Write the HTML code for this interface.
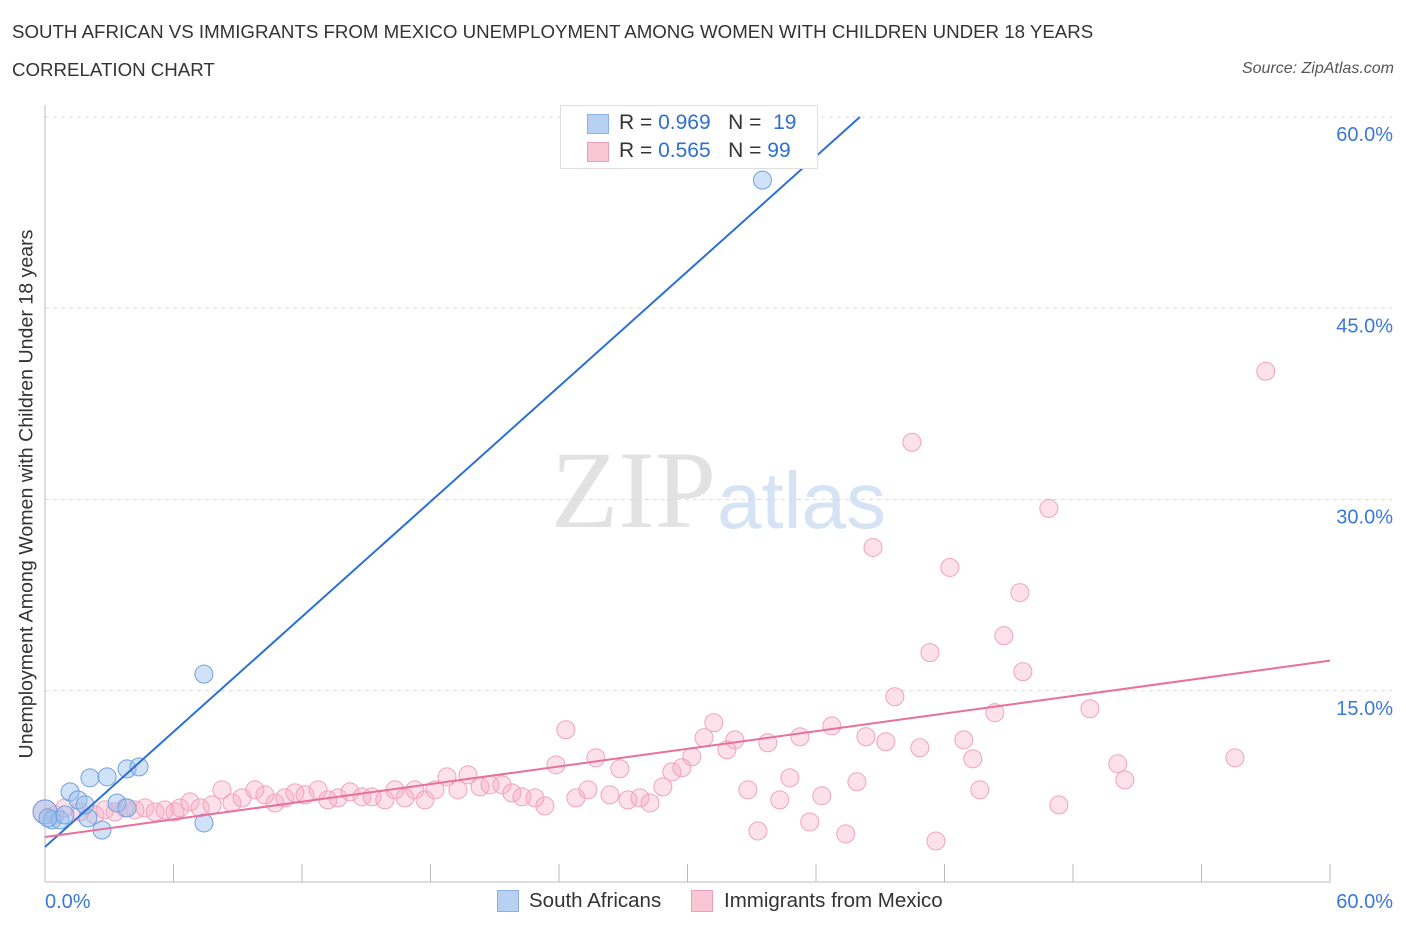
<!DOCTYPE html>
<html><head><meta charset="utf-8">
<style>
body{margin:0;background:#fff;font-family:"Liberation Sans",sans-serif;}
#wrap{position:relative;width:1406px;height:930px;overflow:hidden;}
.t{position:absolute;white-space:nowrap;}
</style></head>
<body>
<div id="wrap">
<div class="t" style="left:12px;top:21px;font-size:18.7px;color:#333;">SOUTH AFRICAN VS IMMIGRANTS FROM MEXICO UNEMPLOYMENT AMONG WOMEN WITH CHILDREN UNDER 18 YEARS</div>
<div class="t" style="left:12px;top:59px;font-size:18.7px;color:#333;">CORRELATION CHART</div>
<div class="t" style="right:12px;top:60px;font-size:16px;color:#555;font-style:italic;">Source: ZipAtlas.com</div>
<svg id="svg" width="1406" height="930" style="position:absolute;left:0;top:0">
<text x="716" y="527" text-anchor="end" font-family="Liberation Serif,serif" font-size="110" fill="#e2e2e2">ZIP</text>
<text x="717" y="528" font-family="Liberation Sans,sans-serif" font-size="80" fill="#d5e3f5">atlas</text>
</svg>
<div class="t" style="left:560px;top:105px;width:256px;height:62px;border:1px solid #ddd;background:#fff;font-size:21px;color:#333;">
<div style="position:absolute;left:26px;top:8px;width:20px;height:18px;background:#b8d1f3;border:1px solid #8ab0e6"></div>
<div style="position:absolute;left:58px;top:5px">R = <span style="color:#2f6fd0">0.969</span>&nbsp;&nbsp;&nbsp;N = &nbsp;<span style="color:#2f6fd0">19</span></div>
<div style="position:absolute;left:26px;top:36px;width:20px;height:18px;background:#f9c6d5;border:1px solid #eea0b8"></div>
<div style="position:absolute;left:58px;top:33px">R = <span style="color:#2f6fd0">0.565</span>&nbsp;&nbsp;&nbsp;N = <span style="color:#2f6fd0">99</span></div>
</div>
<div class="t" style="left:497px;top:890px;width:20px;height:20px;background:#b8d1f3;border:1px solid #8ab0e6"></div>
<div class="t" style="left:529px;top:889px;font-size:20.5px;color:#333">South Africans</div>
<div class="t" style="left:691px;top:890px;width:20px;height:20px;background:#f9c6d5;border:1px solid #eea0b8"></div>
<div class="t" style="left:724px;top:889px;font-size:20.5px;color:#333">Immigrants from Mexico</div>
<div class="t" style="left:0;top:0;width:40px;height:930px">
<div class="t" style="left:27px;top:494px;transform:translate(-50%,-50%) rotate(-90deg);font-size:19.6px;color:#333">Unemployment Among Women with Children Under 18 years</div></div>
</div>
<script>
const yTicks=[15,30,45,60];
const yTickLabels=["15.0%","30.0%","45.0%","60.0%"];
const blueX=[0,0.33,0.7,1.17,1.54,2.0,2.1,2.66,2.9,3.36,3.83,3.83,4.39,7.42,7.42,33.5,0.14,1.87,0.93];
const blueY=[5.5,4.87,4.87,7.07,6.44,5.03,8.17,4.08,8.25,6.2,5.81,8.87,9.03,16.3,4.63,55.05,5.03,6.05,5.26];
const pinkX=[0,0.47,0.93,1.63,2.33,2.8,3.27,3.73,4.2,4.67,5.14,5.6,6.07,6.3,6.77,7.24,7.8,8.26,8.73,9.2,9.8,10.27,10.74,11.2,11.67,12.14,12.75,13.21,13.68,14.24,14.8,15.27,15.87,16.34,16.81,17.27,17.74,18.21,18.77,19.28,19.75,20.31,20.78,21.34,21.8,22.27,22.88,23.34,23.86,24.32,24.79,25.35,25.72,26.38,26.84,27.22,27.78,28.25,28.85,29.27,29.74,30.2,30.77,31.23,31.84,32.21,32.82,33.29,33.75,34.31,34.78,35.25,35.71,36.27,36.74,37.39,37.91,38.33,38.66,39.26,39.68,40.48,40.85,41.32,41.6,42.25,42.9,43.32,43.65,44.35,44.77,45.52,45.66,46.87,47.34,48.79,50.09,50.42,55.56,57.0];
const pinkY=[5.5,5.26,5.81,5.5,5.26,5.66,5.5,5.81,5.66,5.81,5.5,5.66,5.5,5.81,6.28,5.81,6.05,7.23,6.2,6.6,7.23,6.83,6.2,6.6,6.99,6.83,7.23,6.44,6.6,7.07,6.68,6.68,6.44,7.23,6.6,7.23,6.44,7.23,8.25,7.23,8.4,7.46,7.62,7.62,6.99,6.68,6.6,5.97,9.19,11.94,6.6,7.23,9.74,6.83,8.88,6.44,6.6,6.2,7.46,8.64,8.96,9.82,11.31,12.49,10.37,11.15,7.23,4.0,10.92,6.44,8.17,11.39,4.71,6.76,12.25,3.77,7.86,11.39,26.24,11.0,14.53,34.49,10.53,17.99,3.22,24.67,11.15,9.66,7.23,13.28,19.32,22.7,16.5,29.3,6.05,13.59,9.27,8.01,9.74,40.06];
const blueLine=[[0,2.75],[38.05,60]];
const pinkLine=[[0,3.53],[60,17.36]];
const X0=45,X1=1330,Y0=882,Y1=117;
const sx=v=>X0+v/60*(X1-X0), sy=v=>Y0-v/60*(Y0-Y1);
const svg=document.getElementById('svg'),NS='http://www.w3.org/2000/svg';
function mk(t,a){const e=document.createElementNS(NS,t);for(const k in a)e.setAttribute(k,a[k]);svg.appendChild(e);return e;}
yTicks.forEach((v,i)=>{
 const g=mk('line',{x1:X0,x2:1392,y1:sy(v),y2:sy(v),stroke:'#dcdcdc','stroke-dasharray':'4,4'});
 
 
 const t=mk('text',{x:1393,y:sy(v)+24,'text-anchor':'end','font-size':20,fill:'#3b78d8','font-family':'Liberation Sans,sans-serif'});
 t.textContent=yTickLabels[i];
 
 
});
const ax=mk('line',{x1:X0,x2:X0,y1:105,y2:Y0,stroke:'#bbb'});


const bx=mk('line',{x1:X0,x2:X1,y1:Y0,y2:Y0,stroke:'#bbb'});


for(let i=1;i<=10;i++){const tk=mk('line',{x1:sx(i*6),x2:sx(i*6),y1:864,y2:Y0,stroke:'#bbb'});
 
 }
[['0.0%',45,'start'],['60.0%',1393,'end']].forEach(a=>{const t=mk('text',{x:a[1],y:908,'text-anchor':a[2],'font-size':20,fill:'#3b78d8','font-family':'Liberation Sans,sans-serif'});t.textContent=a[0];
 
 });
pinkX.forEach((x,i)=>{const c=mk('circle',{cx:sx(x),cy:sy(pinkY[i]),r:i==0?12:9,fill:'rgba(246,168,194,0.35)',stroke:'#f0a3bb','stroke-width':1});
 
 });
blueX.forEach((x,i)=>{const c=mk('circle',{cx:sx(x),cy:sy(blueY[i]),r:i==0?12:9,fill:'rgba(150,190,240,0.45)',stroke:'#6fa0e0','stroke-width':1});
 
 });
const bl=mk('line',{x1:sx(blueLine[0][0]),y1:sy(blueLine[0][1]),x2:sx(blueLine[1][0]),y2:sy(blueLine[1][1]),stroke:'#2a6fd6','stroke-width':2});


const pl=mk('line',{x1:sx(pinkLine[0][0]),y1:sy(pinkLine[0][1]),x2:sx(pinkLine[1][0]),y2:sy(pinkLine[1][1]),stroke:'#e8709a','stroke-width':2});


</script>
</body></html>
